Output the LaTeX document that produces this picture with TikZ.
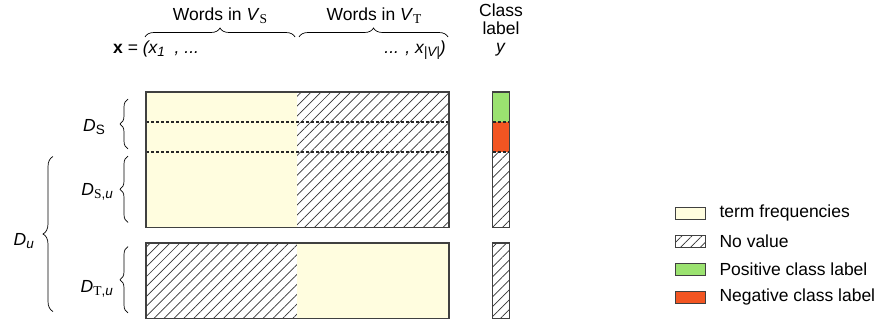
\documentclass[tikz,border=0pt]{standalone}
\usepackage{fontspec}
\setmainfont{Liberation Sans}
\newfontfamily\subfont{Liberation Serif}
\usetikzlibrary{patterns.meta}
\usetikzlibrary{decorations,decorations.pathreplacing}
\definecolor{tfyellow}{HTML}{FFFDDF}
\definecolor{posgreen}{HTML}{9BE270}
\definecolor{negred}{HTML}{F25522}
\tikzstyle{termfreq}=[fill=tfyellow]
\tikzstyle{novalue}=[pattern={Lines[angle=45,distance=7pt,line width=0.7pt]}, pattern color=black!80]
\tikzstyle{poslabel}=[fill=posgreen]
\tikzstyle{neglabel}=[fill=negred]
\tikzstyle{frame}=[draw=black!75, line width=1.1pt]
\tikzstyle{sep}=[draw=black!85, dash pattern=on 3pt off 2pt, line width=1.2pt]
\tikzstyle{brace}=[decorate, decoration={brace, amplitude=9pt}, line width=0.7pt]
\newcommand{\lowsub}[1]{\raisebox{-0.35ex}{\fontsize{13.5}{13.5}\selectfont #1}}
\newcommand{\legendentry}[4]{
	\draw[#1, draw=black!75, line width=0.8pt] (675,#2-6) rectangle (705,#2+6);
	\node[anchor=west] (#3) at (716,#2) {#4};
}
\begin{document}
\begin{tikzpicture}[x=1pt, y=-1pt, font=\fontsize{17.5}{19}\selectfont]
	\useasboundingbox (0,0) rectangle (889,324);
%
	\fill[termfreq] (146,92) rectangle (297,227.5);
	\fill[novalue] (297,92) rectangle (449,227.5);
	\draw[sep] (146,122) -- (449,122)  (146,152) -- (449,152);
	\draw[frame] (146,92) rectangle (449,227.5);
%
	\fill[novalue] (146,243) rectangle (297,318.5);
	\fill[termfreq] (297,243) rectangle (449,318.5);
	\draw[frame] (146,243) rectangle (449,318.5);
%
	\fill[poslabel] (492.5,92) rectangle (509.5,122);
	\fill[neglabel] (492.5,122) rectangle (509.5,152);
	\fill[novalue] (492.5,152) rectangle (509.5,227.5);
	\draw[sep] (492.5,122) -- (509.5,122)  (492.5,152) -- (509.5,152);
	\draw[frame] (492.5,92) rectangle (509.5,227.5);
	\fill[novalue] (492.5,243) rectangle (509.5,318.5);
	\draw[frame] (492.5,243) rectangle (509.5,318.5);
%
	\draw[brace] (145,37) -- (295,37);
	\draw[brace] (299,37) -- (448,37);
	\draw[brace, decoration={amplitude=8pt}] (128,149) -- (128,99);
	\draw[brace, decoration={amplitude=8pt}] (128,222.5) -- (128,156);
	\draw[brace, decoration={amplitude=8pt}] (128,313) -- (128,246.5);
	\draw[brace, decoration={amplitude=10pt}] (53,311.5) -- (53,156.5);
%
	\node[anchor=base] (wordsS) at (220,20) {Words in \textit{V}\lowsub{\subfont S}};
	\node[anchor=base] (wordsT) at (374,20) {Words in \textit{V}\lowsub{\subfont T}};
	\node[anchor=north, align=center, inner sep=0pt, font=\fontsize{17.5}{18}\selectfont] (classy) at (501,4) {Class\\label\\\textit{y}};
	\node[anchor=base west, inner sep=0pt] (xfirst) at (113,53) {\textbf{x} = \textit{(x\lowsub{1}\ \ , ...}};
	\node[anchor=base east, inner sep=0pt] (xlast) at (446,53) {\textit{... , x\lowsub{|V|})}};
%
	\node[anchor=base east, inner sep=0pt] (DS) at (105,131) {\textit{D}\lowsub{S}};
	\node[anchor=base east, inner sep=0pt] (DSu) at (113,195) {\textit{D}\lowsub{{\subfont S},\textit{u}}};
	\node[anchor=base east, inner sep=0pt] (DTu) at (113,292) {\textit{D}\lowsub{{\subfont T},\textit{u}}};
	\node[anchor=base east, inner sep=0pt] (Du) at (34,245) {\textit{D}\lowsub{\textit{u}}};
%
	\legendentry{termfreq}{213}{lterm}{term frequencies}
	\legendentry{novalue}{241}{lnone}{No value}
	\legendentry{poslabel}{269}{lpos}{Positive class label}
	\legendentry{neglabel}{297}{lneg}{Negative class label}
\end{tikzpicture}
\end{document}
